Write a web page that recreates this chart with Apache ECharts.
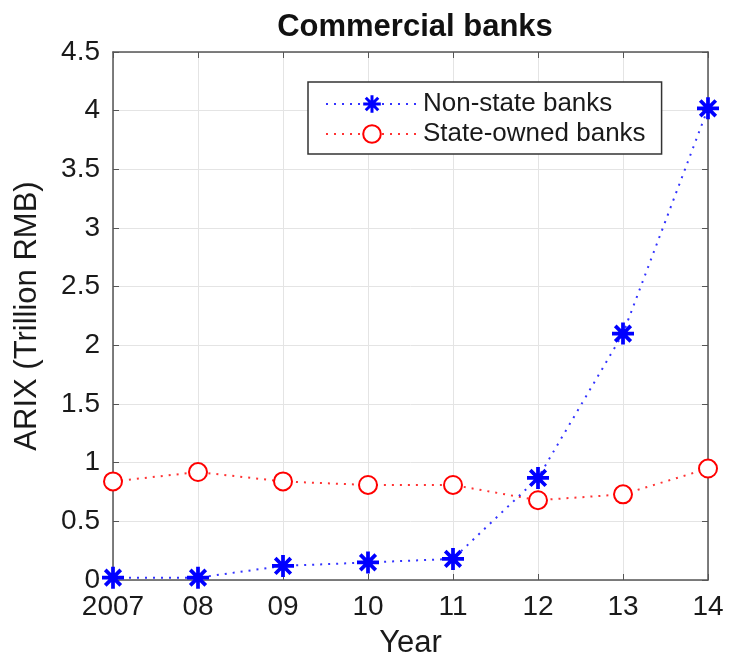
<!DOCTYPE html>
<html>
<head>
<meta charset="utf-8">
<script src="https://cdn.jsdelivr.net/npm/echarts@6/dist/echarts.min.js"></script>
<style>
  html, body { margin: 0; padding: 0; background: #fff; }
  #chart { width: 731px; height: 668px; }
</style>
</head>
<body>
<div id="chart"></div>
<script>
// data
const years = ['2007', '08', '09', '10', '11', '12', '13', '14'];
const nonStateBanks = [0.02, 0.02, 0.12, 0.15, 0.18, 0.87, 2.1, 4.02];
const stateOwnedBanks = [0.84, 0.92, 0.84, 0.81, 0.81, 0.68, 0.73, 0.95];
const yMin = 0;
const yMax = 4.5;
const yStep = 0.5;

const fontFamily = "'Liberation Sans', Arial, Helvetica, sans-serif";
const textColor = '#1a1a1a';
const boxColor = '#555';
const gridColor = '#e4e4e4';

// asterisk marker like matlab '*' : four thin bars crossing
const asteriskPath = (() => {
  const R = 10, t = 1.7;
  let d = '';
  [0, 45, 90, 135].forEach((deg) => {
    const a = (deg * Math.PI) / 180;
    const c = Math.cos(a), s = Math.sin(a);
    const pts = [[-R, -t], [R, -t], [R, t], [-R, t]].map(([x, y]) => [
      (x * c - y * s).toFixed(2),
      (x * s + y * c).toFixed(2),
    ]);
    d += 'M' + pts.map((p) => p.join(' ')).join(' L') + ' Z ';
  });
  return 'path://' + d;
})();

const chart = echarts.init(document.getElementById('chart'));

const hiddenAxisBits = {
  axisLabel: { show: false },
  splitLine: { show: false },
  axisLine: { show: true, onZero: false, lineStyle: { color: boxColor, width: 1.5 } },
  axisTick: { show: true, inside: true, length: 6, lineStyle: { color: boxColor } },
};

chart.setOption({
  animation: false,
  textStyle: { fontFamily: fontFamily, color: textColor },
  title: {
    text: 'Commercial banks',
    left: 410,
    textAlign: 'center',
    top: 7,
    textStyle: { fontSize: 31, fontWeight: 'bold', color: '#111', fontFamily: fontFamily },
  },
  grid: { left: 113, right: 23, top: 52, bottom: 88, containLabel: false },
  legend: {
    orient: 'vertical',
    left: 308,
    top: 82,
    padding: [9, 16, 7, 17],
    itemWidth: 92,
    itemHeight: 22,
    itemGap: 4,
    borderColor: '#333',
    borderWidth: 1.5,
    backgroundColor: '#fff',
    textStyle: { fontSize: 26, color: textColor, fontFamily: fontFamily },
    data: ['Non-state banks', 'State-owned banks'],
  },
  xAxis: [
    {
      type: 'category',
      data: years,
      boundaryGap: false,
      name: 'Year',
      nameLocation: 'middle',
      nameGap: 48,
      nameTextStyle: { fontSize: 31, color: textColor, fontFamily: fontFamily },
      axisLine: { show: true, onZero: false, lineStyle: { color: boxColor, width: 1.5 } },
      axisTick: { show: true, inside: true, length: 6, alignWithLabel: true, lineStyle: { color: boxColor } },
      axisLabel: { fontSize: 28, margin: 13, color: textColor, fontFamily: fontFamily },
      splitLine: { show: true, lineStyle: { color: gridColor, width: 1 } },
    },
    Object.assign({ type: 'category', data: years, boundaryGap: false, position: 'top' }, hiddenAxisBits),
  ],
  yAxis: [
    {
      type: 'value',
      min: yMin,
      max: yMax,
      interval: yStep,
      name: 'ARIX (Trillion RMB)',
      nameLocation: 'middle',
      nameGap: 70,
      nameTextStyle: { fontSize: 31, color: textColor, fontFamily: fontFamily },
      axisLine: { show: true, onZero: false, lineStyle: { color: boxColor, width: 1.5 } },
      axisTick: { show: true, inside: true, length: 6, lineStyle: { color: boxColor } },
      axisLabel: { fontSize: 28, margin: 13, color: textColor, fontFamily: fontFamily },
      splitLine: { show: true, lineStyle: { color: gridColor, width: 1 } },
    },
    Object.assign({ type: 'value', min: yMin, max: yMax, interval: yStep, position: 'right' }, hiddenAxisBits),
  ],
  series: [
    {
      name: 'Non-state banks',
      type: 'line',
      data: nonStateBanks,
      symbol: asteriskPath,
      symbolSize: 22,
      z: 4,
      color: '#0000ff',
      itemStyle: { color: '#0000ff' },
      lineStyle: { color: '#0000ff', width: 2, type: [2, 6], opacity: 0.8 },
    },
    {
      name: 'State-owned banks',
      type: 'line',
      data: stateOwnedBanks,
      symbol: 'emptyCircle',
      symbolSize: 18,
      z: 3,
      color: '#ff0000',
      itemStyle: { color: '#ff0000', borderColor: '#ff0000', borderWidth: 2 },
      lineStyle: { color: '#ff0000', width: 2, type: [2, 6], opacity: 0.8 },
    },
  ],
});

window.addEventListener('resize', () => chart.resize());
</script>
</body>
</html>
